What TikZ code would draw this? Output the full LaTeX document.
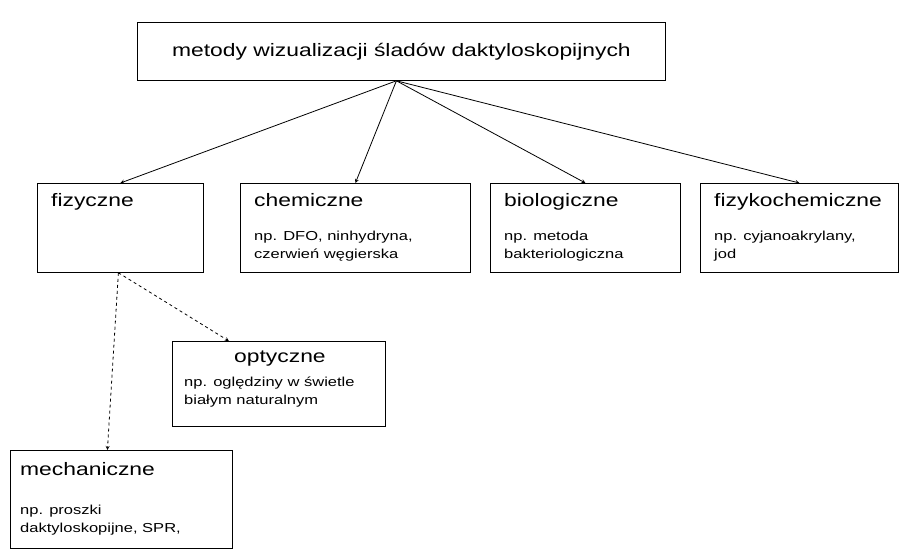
\documentclass[tikz,border=0pt]{standalone}
\usepackage{fontspec}
\setmainfont[FakeStretch=1.27]{Liberation Sans}
\usetikzlibrary{positioning}
\tikzset{
  kat/.style={draw, thick, anchor=north west, inner sep=0pt},
  tytul/.style={anchor=north west, font=\fontsize{18}{20}\selectfont, inner sep=0pt},
  opis/.style={anchor=north west, font=\fontsize{13}{18}\selectfont, align=left, inner sep=0pt},
  strz/.style={->, >=stealth, thick},
}
\begin{document}
\begin{tikzpicture}[x=1pt, y=-1pt]
  \useasboundingbox (0,0) rectangle (909,556);

  % main box
  \node[kat, minimum width=528pt, minimum height=58pt] (glowny) at (137,22) {};
  \node[font=\fontsize{18}{20}\selectfont] at (glowny.center) {metody wizualizacji śladów daktyloskopijnych};

  % first row
  \foreach \n/\x/\w/\t/\o in {fiz/37/166/fizyczne/,
      chem/240/230/chemiczne/{np. DFO, ninhydryna,\\czerwień węgierska},
      bio/490/190/biologiczne/{np. metoda\\bakteriologiczna},
      fch/700/198/fizykochemiczne/{np. cyjanoakrylany,\\jod}} {
    \node[kat, minimum width=\w pt, minimum height=89pt] (\n) at (\x,183) {};
    \node[tytul] at ([xshift=14pt, yshift=-10pt]\n.north west) {\t};
    \node[opis] at ([xshift=14pt, yshift=-48pt]\n.north west) {\o};
    \draw[strz] ([xshift=-5pt]glowny.south) -- (\n.north);
  }

  % second level
  \node[kat, minimum width=213pt, minimum height=85pt] (opt) at (172,341) {};
  \node[tytul] at ([xshift=62pt, yshift=-10pt]opt.north west) {optyczne};
  \node[opis] at ([xshift=12pt, yshift=-36pt]opt.north west) {np. oględziny w świetle\\białym naturalnym};

  \node[kat, minimum width=222pt, minimum height=98pt] (mech) at (10,450) {};
  \node[tytul] at ([xshift=10pt, yshift=-12pt]mech.north west) {mechaniczne};
  \node[opis] at ([xshift=10pt, yshift=-55pt]mech.north west) {np. proszki\\daktyloskopijne, SPR,};

  \draw[strz, dashed] ([xshift=-2pt]fiz.south) -- ([xshift=-50pt]opt.north);
  \draw[strz, dashed] ([xshift=-2pt]fiz.south) -- ([xshift=-14pt]mech.north);
\end{tikzpicture}
\end{document}
